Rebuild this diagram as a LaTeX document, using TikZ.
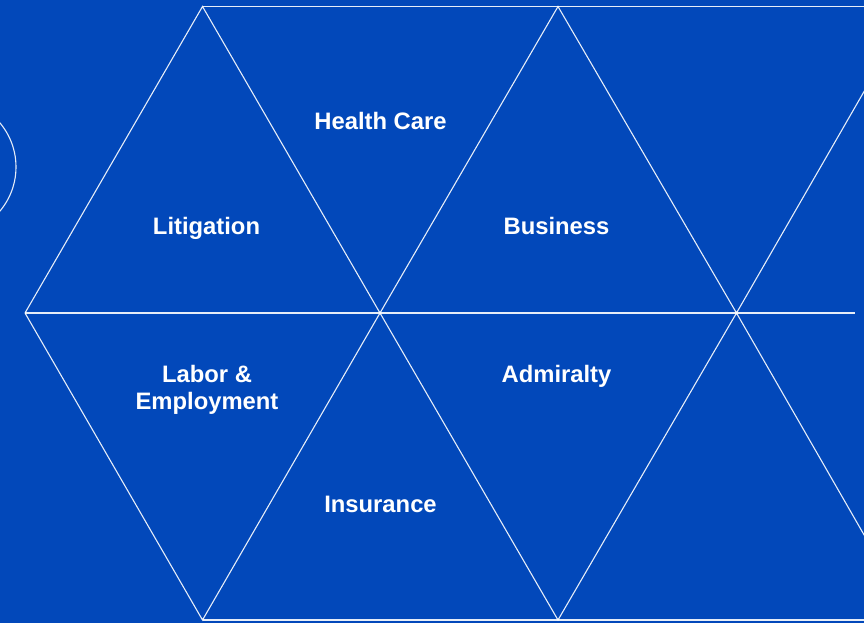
\documentclass[tikz,border=0pt]{standalone}
\usepackage{fontspec}
\setmainfont{Liberation Sans}
\definecolor{bgblue}{RGB}{2,72,186}
\tikzset{
  gridline/.style={draw=white, line width=1.1pt, opacity=0.9},
  lbl/.style={text=white, font=\bfseries\fontsize{23.8}{28}\selectfont, inner sep=0pt, anchor=base}
}
\begin{document}
\begin{tikzpicture}[x=1pt,y=-1pt]
\fill[bgblue] (0,0) rectangle (864,623);
\useasboundingbox (0,0) rectangle (864,623);
\clip (0,0) rectangle (864,623);
% vertices
\coordinate (A) at (25,313);
\coordinate (T1) at (202.5,6.5);
\coordinate (M1) at (380,313);
\coordinate (T2) at (558,6.5);
\coordinate (M2) at (736.5,313);
\coordinate (B1) at (202.5,620);
\coordinate (B2) at (558,620);
\coordinate (TR) at (870,6.5);
\coordinate (BR) at (870,620);
\coordinate (MR) at (855,313);
\coordinate (UR) at (913,6.5);
\coordinate (DR) at (913,620);
% circle at left edge
\draw[gridline] (-52.5,167) circle (68.5);
% lines
\draw[gridline] (T1) -- (TR);
\draw[gridline] (B1) -- (BR);
\draw[gridline] (A) -- (MR);
\draw[gridline] (A) -- (T1) -- (M1) -- (T2) -- (M2) -- (UR);
\draw[gridline] (A) -- (B1) -- (M1) -- (B2) -- (M2) -- (DR);
% labels
\node[lbl] (hc) at (380.5,129) {Health Care};
\node[lbl] (lit) at (206.5,234) {Litigation};
\node[lbl] (bus) at (556.5,234) {Business};
\node[lbl] (lab1) at (207,382) {Labor \&};
\node[lbl] (lab2) at (207,409) {Employment};
\node[lbl] (adm) at (556.5,382) {Admiralty};
\node[lbl] (ins) at (380.5,512) {Insurance};
\end{tikzpicture}
\end{document}
